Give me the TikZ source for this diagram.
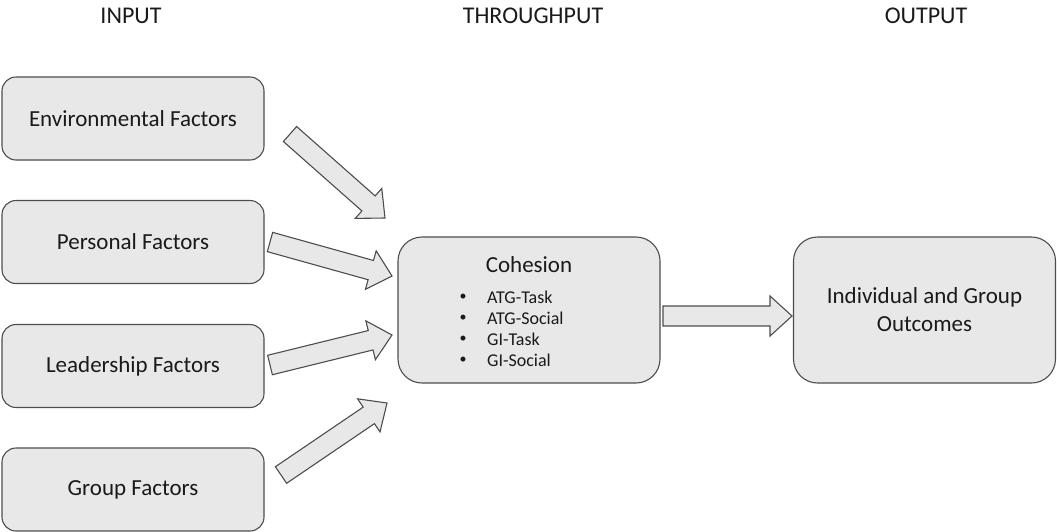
\documentclass[tikz,border=0pt]{standalone}
\usepackage{fontspec}
\setmainfont{Carlito}
\usetikzlibrary{calc}
\definecolor{boxfill}{HTML}{E8E8E8}
\definecolor{boxline}{HTML}{4D4D4D}
\definecolor{txt}{HTML}{1A1A1A}
\tikzset{
  box/.style={draw=boxline, fill=boxfill, line width=1.1pt, rounded corners=14pt,
    minimum width=262pt, minimum height=83pt, font=\fontsize{23}{28}\selectfont,
    align=center, inner sep=0pt, text=txt},
  bigbox/.style={box, rounded corners=24pt, minimum height=146pt},
  header/.style={font=\fontsize{24}{28}\selectfont, inner sep=0pt, text=txt},
  item/.style={font=\fontsize{18}{21}\selectfont, anchor=west, inner sep=0pt, text=txt},
  bullet/.style={font=\fontsize{14}{21}\selectfont, inner sep=0pt, text=txt},
  blockarrow/.style={draw=boxline, fill=boxfill, line width=1.1pt, line join=miter}
}
\newcommand\blockarr[2]{%
  \coordinate (hb) at ($(#2)!22pt!(#1)$);
  \draw[blockarrow] ($(#1)!10pt!90:(#2)$) -- ($(hb)!10pt!90:(#2)$) -- ($(hb)!20pt!90:(#2)$)
    -- (#2) -- ($(hb)!20pt!-90:(#2)$) -- ($(hb)!10pt!-90:(#2)$) -- ($(#1)!10pt!-90:(#2)$) -- cycle;}
\begin{document}
\begin{tikzpicture}[x=1pt,y=-1pt]
\useasboundingbox (0,0) rectangle (1057,531);
% headers
\node[header] (hin) at (131,16) {INPUT};
\node[header] (hth) at (533,16) {THROUGHPUT};
\node[header] (hout) at (926,16) {OUTPUT};
% input boxes
\node[box] (env) at (133,118.5) {Environmental Factors};
\node[box] (pers) at (133,242) {Personal Factors};
\node[box] (lead) at (133,366) {Leadership Factors};
\node[box] (grp) at (133,489.5) {Group Factors};
% cohesion
\node[bigbox] (coh) at (529,310) {};
\node[font=\fontsize{23}{28}\selectfont, inner sep=0pt, text=txt] (cohT) at (529,265) {Cohesion};
\node[bullet] (b1) at (463,297) {•}; \node[item] (i1) at (487,297) {ATG-Task};
\node[bullet] (b2) at (463,318) {•}; \node[item] (i2) at (487,318) {ATG-Social};
\node[bullet] (b3) at (463,339) {•}; \node[item] (i3) at (487,339) {GI-Task};
\node[bullet] (b4) at (463,360) {•}; \node[item] (i4) at (487,360) {GI-Social};
% outcomes
\node[bigbox] (out) at (924.5,310) {Individual and Group\\Outcomes};
% arrow ends
\coordinate (a1s) at (290,134); \coordinate (a1e) at (385,218);
\coordinate (a2s) at (270,242); \coordinate (a2e) at (392,276);
\coordinate (a3s) at (270,365); \coordinate (a3e) at (392,335);
\coordinate (a4s) at (281,475); \coordinate (a4e) at (387,403);
\coordinate (a5s) at (663,316); \coordinate (a5e) at (792,316);
\blockarr{a1s}{a1e}
\blockarr{a2s}{a2e}
\blockarr{a3s}{a3e}
\blockarr{a4s}{a4e}
\blockarr{a5s}{a5e}
\end{tikzpicture}
\end{document}
